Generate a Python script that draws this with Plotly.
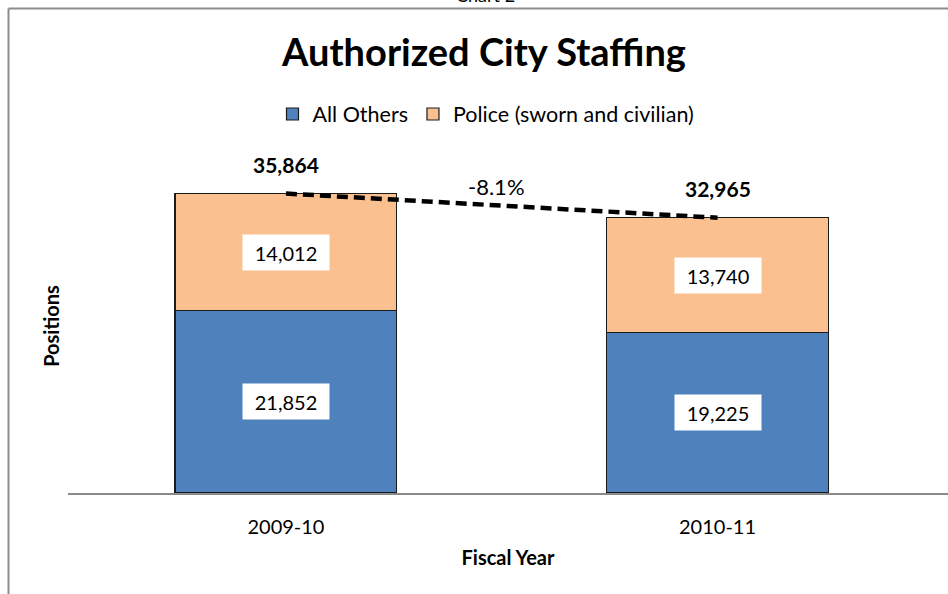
import plotly.graph_objects as go

categories = ["2009-10", "2010-11"]
all_others = [21852, 19225]
police = [14012, 13740]
totals = [35864, 32965]
change_label = "-8.1%"

W, H = 948, 594
ML, MR, MT, MB = 68, 0, 159, 101
PW = W - ML - MR
PH = H - MT - MB

FONT = "Lato, 'Open Sans', sans-serif"
BLUE = "#4F81BD"
ORANGE = "#FAC090"

fig = go.Figure()
fig.add_trace(go.Bar(
    x=categories, y=all_others, name="All Others",
    marker=dict(color=BLUE, line=dict(color="#1a1a1a", width=1.2)),
    width=0.514,
))
fig.add_trace(go.Bar(
    x=categories, y=police, name="Police (sworn and civilian)",
    marker=dict(color=ORANGE, line=dict(color="#1a1a1a", width=1.2)),
    width=0.514,
))
fig.add_trace(go.Scatter(
    x=categories, y=totals, mode="lines", showlegend=False,
    line=dict(color="black", width=4.5, dash="11px,6px"), hoverinfo="skip",
))

annotations = []
for i, c in enumerate(categories):
    annotations.append(dict(
        x=i, y=all_others[i] / 2, xref="x", yref="y", text=f"{all_others[i]:,}",
        showarrow=False, bgcolor="white", width=84, height=33,
        font=dict(family=FONT, size=20, color="black"),
    ))
    annotations.append(dict(
        x=i, y=all_others[i] + police[i] / 2, xref="x", yref="y", text=f"{police[i]:,}",
        showarrow=False, bgcolor="white", width=84, height=33,
        font=dict(family=FONT, size=20, color="black"),
    ))
    annotations.append(dict(
        x=i, y=totals[i], xref="x", yref="y", text=f"<b>{totals[i]:,}</b>",
        showarrow=False, yshift=29,
        font=dict(family=FONT, size=21, color="black"),
    ))
annotations.append(dict(
    x=0.5, y=(totals[0] + totals[1]) / 2, xref="x", yref="y", text=change_label,
    showarrow=False, yshift=19, xshift=-5, font=dict(family=FONT, size=22, color="black"),
))
annotations.append(dict(
    x=(485 - ML) / PW, y=1 + (MT + 5) / PH, xref="paper", yref="paper", text="Chart 2",
    showarrow=False, yanchor="middle", font=dict(family=FONT, size=18, color="black"),
))

shapes = [
    dict(type="line", xref="paper", yref="paper",
         x0=(8.5 - ML) / PW, x1=(W + 5 - ML) / PW,
         y0=(H - MB - 8.5) / PH, y1=(H - MB - 8.5) / PH,
         line=dict(color="#8c8c8c", width=2)),
    dict(type="line", xref="paper", yref="paper",
         x0=(8.5 - ML) / PW, x1=(8.5 - ML) / PW,
         y0=(H - MB - 8.5) / PH, y1=-MB / PH - 0.05,
         line=dict(color="#8c8c8c", width=2)),
]

fig.update_layout(
    width=W, height=H, barmode="stack",
    margin=dict(l=ML, r=MR, t=MT, b=MB, autoexpand=False),
    paper_bgcolor="white", plot_bgcolor="white",
    title=dict(text="<b>Authorized City Staffing</b>", x=484 / W, xref="container",
               xanchor="center", y=1 - 53 / H, yref="container", yanchor="middle",
               font=dict(family=FONT, size=38, color="black")),
    legend=dict(orientation="h", x=(486 - ML) / PW, xanchor="center",
                y=1 + (MT - 114) / PH, yanchor="middle",
                font=dict(family=FONT, size=21.5, color="black"),
                itemwidth=30, traceorder="normal", bgcolor="rgba(0,0,0,0)"),
    annotations=annotations, shapes=shapes,
    xaxis=dict(
        type="category",
        range=[-0.505, 1.534], showgrid=False, showline=True, linecolor="#8a8a8a",
        linewidth=1.5, ticks="", ticklabelstandoff=15,
        tickfont=dict(family=FONT, size=20, color="black"),
        title=dict(text="<b>Fiscal Year</b>", standoff=14,
                   font=dict(family=FONT, size=20, color="black")),
        automargin=False,
    ),
    yaxis=dict(
        range=[0, 40000], showgrid=False, showline=False, showticklabels=False,
        ticks="", zeroline=False,
        title=dict(text="<b>Positions</b>", standoff=2,
                   font=dict(family=FONT, size=20, color="black")),
        automargin=False,
    ),
    showlegend=True,
)

fig.write_html("out.html")
